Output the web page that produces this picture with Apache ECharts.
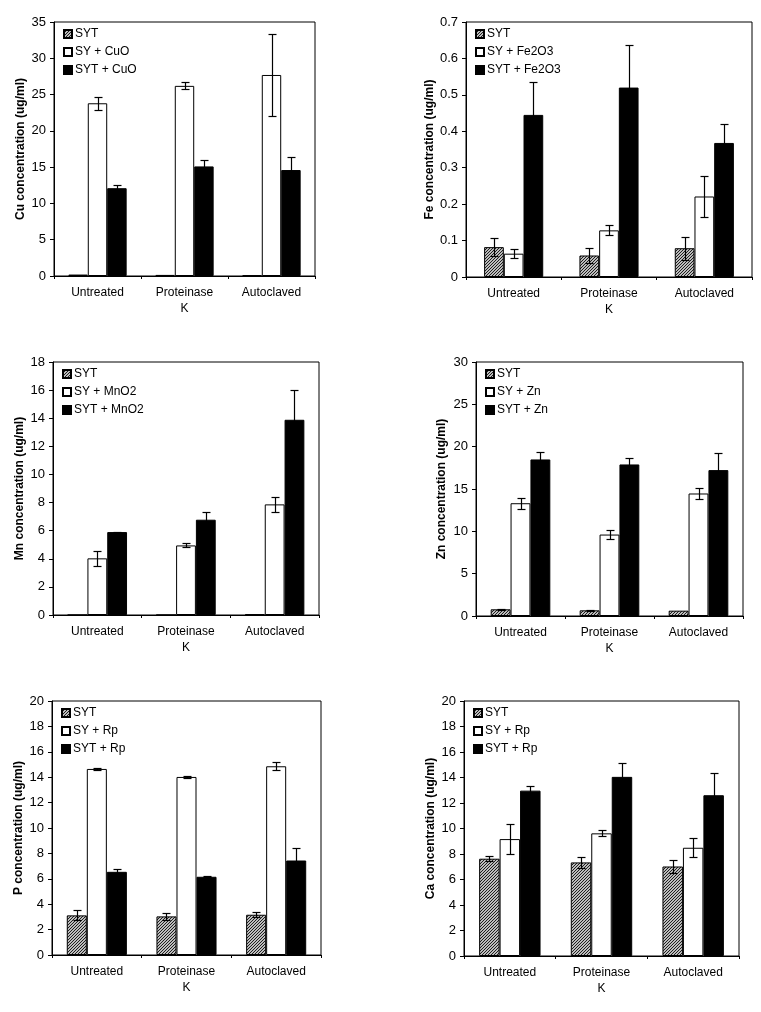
<!DOCTYPE html>
<html><head><meta charset="utf-8">
<script src="https://cdn.jsdelivr.net/npm/echarts@6/dist/echarts.min.js"></script>
<style>html,body{margin:0;padding:0;background:#fff}#c{width:761px;height:1012px}</style>
</head><body><div id="c"></div>
<script>
// ---------- data ----------
const categories = ['Untreated', 'Proteinase\nK', 'Autoclaved'];

const cuNames = ['SYT', 'SY + CuO', 'SYT + CuO'];
const cuSYT = [0.2, 0.15, 0.1];
const cuSY = [23.8, 26.2, 27.7];
const cuSYTX = [12.1, 15.1, 14.6];
const cuSYTErr = [0, 0, 0];
const cuSYErr = [0.9, 0.5, 5.6];
const cuSYTXErr = [0.45, 0.95, 1.75];
const cuTicks = [0, 35, 5];

const feNames = ['SYT', 'SY + Fe2O3', 'SYT + Fe2O3'];
const feSYT = [0.082, 0.059, 0.079];
const feSY = [0.064, 0.128, 0.221];
const feSYTX = [0.445, 0.52, 0.368];
const feSYTErr = [0.025, 0.02, 0.032];
const feSYErr = [0.012, 0.014, 0.055];
const feSYTXErr = [0.089, 0.116, 0.053];
const feTicks = [0, 0.7, 0.1];

const mnNames = ['SYT', 'SY + MnO2', 'SYT + MnO2'];
const mnSYT = [0, 0, 0.05];
const mnSY = [4.03, 4.95, 7.87];
const mnSYTX = [5.9, 6.78, 13.89];
const mnSYTErr = [0, 0, 0];
const mnSYErr = [0.52, 0.14, 0.54];
const mnSYTXErr = [0.04, 0.57, 2.15];
const mnTicks = [0, 18, 2];

const znNames = ['SYT', 'SY + Zn', 'SYT + Zn'];
const znSYT = [0.79, 0.67, 0.63];
const znSY = [13.32, 9.62, 14.47];
const znSYTX = [18.49, 17.9, 17.23];
const znSYTErr = [0.05, 0.05, 0];
const znSYErr = [0.63, 0.55, 0.63];
const znSYTXErr = [0.87, 0.75, 2.08];
const znTicks = [0, 30, 5];

const pNames = ['SYT', 'SY + Rp', 'SYT + Rp'];
const pSYT = [3.12, 3.04, 3.17];
const pSY = [14.65, 14.02, 14.86];
const pSYTX = [6.55, 6.16, 7.44];
const pSYTErr = [0.39, 0.29, 0.2];
const pSYErr = [0.05, 0.05, 0.31];
const pSYTXErr = [0.21, 0.05, 0.95];
const pTicks = [0, 20, 2];

const caNames = ['SYT', 'SY + Rp', 'SYT + Rp'];
const caSYT = [7.63, 7.34, 7.02];
const caSY = [9.17, 9.62, 8.49];
const caSYTX = [12.97, 14.05, 12.61];
const caSYTErr = [0.21, 0.45, 0.5];
const caSYErr = [1.2, 0.24, 0.76];
const caSYTXErr = [0.37, 1.1, 1.75];
const caTicks = [0, 20, 2];

// ---------- layout ----------
const panels = [
  {title: 'Cu concentration (ug/ml)', names: cuNames, vals: [cuSYT, cuSY, cuSYTX], errs: [cuSYTErr, cuSYErr, cuSYTXErr], ticks: cuTicks,
   grid: {left: 54, top: 22, width: 261, height: 254}, gap: 0.33, nameGap: 27},
  {title: 'Fe concentration (ug/ml)', names: feNames, vals: [feSYT, feSY, feSYTX], errs: [feSYTErr, feSYErr, feSYTXErr], ticks: feTicks,
   grid: {left: 466, top: 22, width: 286, height: 255}, gap: 0.38, nameGap: 29},
  {title: 'Mn concentration (ug/ml)', names: mnNames, vals: [mnSYT, mnSY, mnSYTX], errs: [mnSYTErr, mnSYErr, mnSYTXErr], ticks: mnTicks,
   grid: {left: 53, top: 362, width: 266, height: 253}, gap: 0.33, nameGap: 27},
  {title: 'Zn concentration (ug/ml)', names: znNames, vals: [znSYT, znSY, znSYTX], errs: [znSYTErr, znSYErr, znSYTXErr], ticks: znTicks,
   grid: {left: 476, top: 362, width: 267, height: 254}, gap: 0.33, nameGap: 28},
  {title: 'P concentration (ug/ml)', names: pNames, vals: [pSYT, pSY, pSYTX], errs: [pSYTErr, pSYErr, pSYTXErr], ticks: pTicks,
   grid: {left: 52, top: 701, width: 269, height: 254}, gap: 0.33, nameGap: 27},
  {title: 'Ca concentration (ug/ml)', names: caNames, vals: [caSYT, caSY, caSYTX], errs: [caSYTErr, caSYErr, caSYTXErr], ticks: caTicks,
   grid: {left: 464, top: 701, width: 275, height: 255}, gap: 0.33, nameGap: 27}
];

const FONT = '"Liberation Sans", Arial, Helvetica, sans-serif';

// hatch pattern
const pc = document.createElement('canvas'); pc.width = 3; pc.height = 3;
const g = pc.getContext('2d');
g.fillStyle = '#bcbcbc'; g.fillRect(0, 0, 3, 3);
g.fillStyle = '#1e1e1e'; g.fillRect(2, 0, 1, 1); g.fillRect(1, 1, 1, 1); g.fillRect(0, 2, 1, 1);
const hatch = {image: pc, repeat: 'repeat'};

const fills = [hatch, '#ffffff', '#000000'];

function errRender(k, gap) {
  return function (params, api) {
    const idx = api.value(0), v = api.value(1), e = api.value(2);
    if (!e) return null;
    const band = api.size([1, 0])[0];
    const bw = band * (1 - gap) / 3;
    const c = api.coord([idx, v]);
    const x = Math.round(c[0] + (k - 1) * bw) + 0.5;
    const yh = Math.round(api.coord([idx, v + e])[1]) + 0.5;
    const yl = Math.round(api.coord([idx, v - e])[1]) + 0.5;
    const hw = 4;
    const st = {stroke: '#000', lineWidth: 1.2};
    return {type: 'group', children: [
      {type: 'line', shape: {x1: x, y1: yh, x2: x, y2: yl}, style: st},
      {type: 'line', shape: {x1: x - hw, y1: yh, x2: x + hw, y2: yh}, style: st},
      {type: 'line', shape: {x1: x - hw, y1: yl, x2: x + hw, y2: yl}, style: st}
    ]};
  };
}

const option = {backgroundColor: '#fff', animation: false, grid: [], xAxis: [], yAxis: [], legend: [], series: []};

panels.forEach((p, i) => {
  option.grid.push(Object.assign({show: true, borderColor: '#000', borderWidth: 1, backgroundColor: 'transparent', containLabel: false}, p.grid));
  option.xAxis.push({
    type: 'category', gridIndex: i, data: categories,
    axisLine: {show: true, lineStyle: {color: '#000', width: 1}},
    axisTick: {show: true, length: 3, lineStyle: {color: '#000'}},
    axisLabel: {color: '#000', fontSize: 12, fontFamily: FONT, margin: 9, lineHeight: 16, interval: 0},
    splitLine: {show: false}
  });
  option.yAxis.push({
    type: 'value', gridIndex: i, min: p.ticks[0], max: p.ticks[1], interval: p.ticks[2],
    name: p.title, nameLocation: 'middle', nameRotate: 90, nameGap: p.nameGap,
    nameTextStyle: {color: '#000', fontSize: 12, fontWeight: 'bold', fontFamily: FONT},
    axisLine: {show: true, lineStyle: {color: '#000', width: 1}},
    axisTick: {show: true, length: 4, lineStyle: {color: '#000'}},
    axisLabel: {color: '#000', fontSize: 13, fontFamily: FONT, margin: 8},
    splitLine: {show: false}
  });
  option.legend.push({
    orient: 'vertical', left: p.grid.left + 9, top: p.grid.top + 5, padding: 0,
    itemWidth: 8, itemHeight: 8, itemGap: 4, icon: 'rect',
    data: p.names,
    textStyle: {color: '#000', fontSize: 12, fontFamily: FONT, lineHeight: 14, padding: [0, 0, 0, -2]},
    selectedMode: false
  });
  for (let k = 0; k < 3; k++) {
    option.series.push({
      type: 'bar', name: p.names[k], xAxisIndex: i, yAxisIndex: i,
      data: p.vals[k], barGap: '0%', barCategoryGap: Math.round(p.gap * 100) + '%',
      itemStyle: {color: fills[k], borderColor: '#000', borderWidth: 1},
      emphasis: {disabled: true}
    });
  }
  for (let k = 0; k < 3; k++) {
    option.series.push({
      type: 'custom', xAxisIndex: i, yAxisIndex: i, z: 5,
      renderItem: errRender(k, p.gap),
      data: p.vals[k].map((v, j) => [j, v, p.errs[k][j]]),
      silent: true
    });
  }
});

const chart = echarts.init(document.getElementById('c'), null, {renderer: 'canvas'});
chart.setOption(option);
</script>
</body></html>
